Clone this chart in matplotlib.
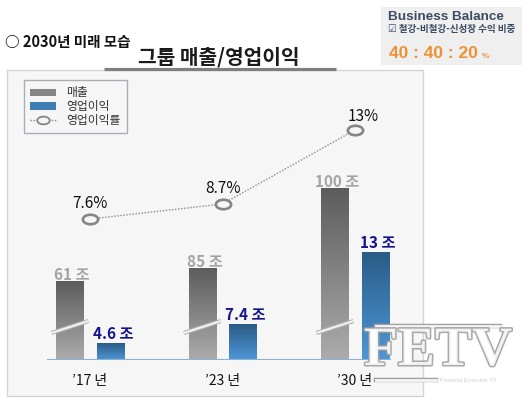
import numpy as np
import matplotlib
matplotlib.use('Agg')
import matplotlib.pyplot as plt
from matplotlib.colors import LinearSegmentedColormap
from matplotlib.patches import Rectangle, Patch
from matplotlib.lines import Line2D
from matplotlib.path import Path
from matplotlib.transforms import Affine2D
import matplotlib.patheffects as pe

plt.rcParams['font.family'] = ['Noto Sans CJK KR', 'DejaVu Sans']

# data (broken axis in the original, so bar/line heights are the drawn heights)
years = ["\u201917 년", "\u201923 년", "\u201930 년"]
sales_labels = ["61 조", "85 조", "100 조"]
profit_labels = ["4.6 조", "7.4 조", "13 조"]
margin_labels = ["7.6%", "8.7%", "13%"]
sales_drawn = [79, 92, 172]
profit_drawn = [17, 36, 108]
margin_drawn = [141, 156, 230]

W, H = 522, 398
fig = plt.figure(figsize=(W / 100, H / 100), dpi=100)
fig.patch.set_facecolor('white')

def fx(px):
    return px / W

def fy(py):
    return 1 - py / H

# panel background (behind the axes)
fig.patches.append(Rectangle((fx(7), fy(396)), fx(423) - fx(7), fy(70) - fy(396),
                             transform=fig.transFigure, facecolor='#f6f6f6',
                             edgecolor='#d4d4d4', lw=1, zorder=-2))

# top-left heading + title with underline
fig.text(fx(5), fy(42), "○ 2030년 미래 모습", fontsize=10.5, fontweight='bold',
         color='#111111', va='center', ha='left')
fig.text(fx(219), fy(57), "그룹 매출/영업이익", fontsize=14.6, fontweight='bold',
         color='#1a1a1a', va='center', ha='center')
fig.lines.append(Line2D([fx(104), fx(336)], [fy(69), fy(69)], transform=fig.transFigure,
                        color='#7f7f7f', lw=2.3, solid_capstyle='butt'))

# business balance box
fig.patches.append(Rectangle((fx(381), fy(65)), fx(522) - fx(381), fy(7) - fy(65),
                             transform=fig.transFigure, facecolor='#efefef',
                             edgecolor='none', zorder=-2))
fig.text(fx(388), fy(17), "Business Balance", fontsize=9.7, fontweight='bold',
         family=['Liberation Sans', 'DejaVu Sans'], color='#3a4c62', va='center')
fig.text(fx(388), fy(29), "☑ 철강-비철강-신성장 수익 비중", fontsize=6.9, fontweight='bold',
         family=['Noto Sans CJK KR', 'DejaVu Sans'], color='#3a4c62', va='center')
fig.text(fx(389), fy(54), "40 : 40 : 20", fontsize=12.5, fontweight='bold',
         family=['Liberation Sans', 'DejaVu Sans'], color='#ec9235', va='center')
fig.text(fx(482), fy(56), "%", fontsize=6, fontweight='bold',
         family=['Liberation Sans', 'DejaVu Sans'], color='#ec9235', va='center')

# main axes: bottom edge sits on the baseline, heights in drawn units
ax = fig.add_axes([fx(7), fy(360), fx(423) - fx(7), fy(70) - fy(360)])
ax.set_facecolor('none')
ax.axis('off')

x = np.arange(len(years))
bw = 0.204
off = 0.152

gray_cmap = LinearSegmentedColormap.from_list('g', ['#acacac', '#5c5c5c'])
blue_cmap = LinearSegmentedColormap.from_list('b', ['#4d97d8', '#2b5b86'])
grad = np.linspace(0, 1, 256).reshape(-1, 1)

sales_bars = ax.bar(x - off, sales_drawn, bw, color='#888888', zorder=2)
profit_bars = ax.bar(x + off, profit_drawn, bw, color='#3c78b0', zorder=2)
for bars, cm in ((sales_bars, gray_cmap), (profit_bars, blue_cmap)):
    for b in bars:
        x0, w, h = b.get_x(), b.get_width(), b.get_height()
        im = ax.imshow(grad, extent=[x0, x0 + w, 0, h], origin='lower', cmap=cm,
                       aspect='auto', zorder=2.5)
        im.set_clip_path(b)

# axis break marks on the sales bars
for xi in x - off:
    ax.plot([xi - 0.14, xi + 0.14], [27, 39], color='#f4f4f4', lw=1.4, zorder=3,
            solid_capstyle='butt',
            path_effects=[pe.Stroke(linewidth=3.0, foreground='#b4b4b4'), pe.Normal()])

# baseline
ax.axhline(0, xmin=(48 - 7) / 416, xmax=(390 - 7) / 416, color='#86b3d6', lw=1.5, zorder=3)

# margin line with oval markers
oval = Path.unit_circle().transformed(Affine2D().scale(1, 0.62))
ax.plot(x, margin_drawn, color='#8a8a8a', lw=1.0, ls=(0, (1, 1.2)), zorder=4,
        marker=oval, markersize=11, markerfacecolor='#f6f6f6',
        markeredgecolor='#858585', markeredgewidth=1.9)

# value labels
for xi, h, lab in zip(x - off, sales_drawn, sales_labels):
    ax.annotate(lab, (xi, h), xytext=(1.5, 1), textcoords='offset points',
                ha='center', va='baseline', fontsize=11, fontweight='bold',
                color='#a3a3a3', zorder=5)
for xi, h, lab in zip(x + off, profit_drawn, profit_labels):
    ax.annotate(lab, (xi, h), xytext=(2, 3), textcoords='offset points',
                ha='center', va='baseline', fontsize=11, fontweight='bold',
                color='#14148a', zorder=5)
pct_offsets = [(0, 11), (0, 11), (6, 10)]
for xi, h, lab, o in zip(x, margin_drawn, margin_labels, pct_offsets):
    ax.annotate(lab, (xi, h), xytext=o, textcoords='offset points',
                ha='center', va='center', fontsize=11, fontweight='medium',
                color='#111111', zorder=5)

# category labels
for xi, lab in zip(x, years):
    ax.annotate(lab, (xi, 0), xytext=(0, -15), textcoords='offset points',
                ha='center', va='center', fontsize=10, fontweight='medium',
                color='#111111', annotation_clip=False)

ax.set_xlim(-83 / 132.5, (416 - 83) / 132.5)
ax.set_ylim(0, 290)

# legend
handles = [Patch(facecolor='#858585', edgecolor='none'),
           Patch(facecolor='#3f7db5', edgecolor='none'),
           Line2D([], [], color='#8a8a8a', lw=1.0, ls=(0, (1, 1.2)), marker=oval,
                  markersize=9, markerfacecolor='#f6f6f6', markeredgecolor='#858585',
                  markeredgewidth=1.3)]
leg = ax.legend(handles, ["매출", "영업이익", "영업이익률"], loc='upper left',
                bbox_to_anchor=(fx(24), fy(80)), bbox_transform=fig.transFigure,
                borderaxespad=0, fontsize=8.5, handlelength=2.2, handleheight=0.6,
                handletextpad=0.8, labelspacing=0.05, borderpad=0.55,
                fancybox=False, framealpha=1, facecolor='#f6f6f6',
                edgecolor='#a8afb7', numpoints=1)
leg.get_frame().set_linewidth(1.0)
for t in leg.get_texts():
    t.set_color('#333333')

# watermark
wm_fx = [pe.Stroke(linewidth=2.2, foreground='#9a9a9a'), pe.Normal()]
fig.text(fx(438), fy(351), "FETV", fontsize=40, fontweight='bold',
         family=['Liberation Serif', 'DejaVu Serif'], color='white', alpha=0.85,
         ha='center', va='center', path_effects=wm_fx)
fig.lines.append(Line2D([fx(376), fx(500)], [fy(326), fy(326)], transform=fig.transFigure,
                        color='white', lw=2, alpha=0.9,
                        path_effects=[pe.Stroke(linewidth=3.2, foreground='#a0a0a0'), pe.Normal()]))
fig.lines.append(Line2D([fx(376), fx(436)], [fy(380), fy(380)], transform=fig.transFigure,
                        color='white', lw=2, alpha=0.9,
                        path_effects=[pe.Stroke(linewidth=3.2, foreground='#a0a0a0'), pe.Normal()]))
fig.text(fx(468), fy(380), "Financial Economic TV", fontsize=4,
         family=['Liberation Sans', 'DejaVu Sans'], color='#cfcfcf', ha='center', va='center')

fig.savefig('out.png', dpi=100)
